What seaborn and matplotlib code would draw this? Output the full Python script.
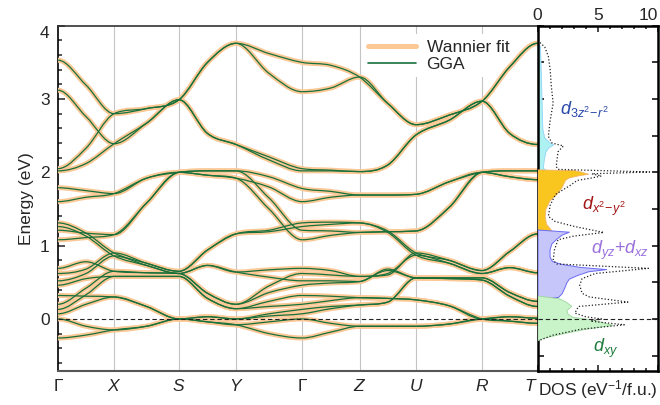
"""Band structure (Wannier fit vs GGA) with orbital-projected DOS."""

import matplotlib

matplotlib.use("Agg")
import matplotlib.pyplot as plt
import numpy as np
import seaborn as sns
from matplotlib.lines import Line2D
from matplotlib.patches import PathPatch
from matplotlib.path import Path
from matplotlib.ticker import MultipleLocator

# k-path: high-symmetry points (distance along path, arbitrary units)
HS_LABELS = [r"$\Gamma$", "$X$", "$S$", "$Y$", r"$\Gamma$", "$Z$", "$U$", "$R$", "$T$"]
HS_POS = [0, 56, 121, 178, 244, 301.5, 358, 424, 479.5]

# band energies (eV) read at each high-symmetry point and at the middle of each segment:
# Γ, ., X, ., S, ., Y, ., Γ, ., Z, ., U, ., R, ., T
U1 = [3.53, 3.19, 2.80, 2.87, 2.99, 3.50, 3.76, 3.62, 3.50, 3.46, 3.30, 2.94, 2.65, 2.78, 2.97, 3.44, 3.76]
U2 = [2.05, 2.33, 2.80, 2.87, 2.99, 3.50, 3.76, 3.35, 3.10, 3.15, 3.30, 2.94, 2.65, 2.78, 2.97, 3.44, 3.76]
U3 = [3.12, 2.76, 2.39, 2.67, 2.99, 2.53, 2.38, 2.21, 2.05, 2.03, 2.01, 2.10, 2.51, 2.71, 2.97, 2.53, 2.38]
U4 = [2.02, 2.12, 2.39, 2.67, 2.99, 2.53, 2.38, 2.17, 2.02, 2.02, 2.01, 2.10, 2.51, 2.71, 2.97, 2.53, 2.38]
G1 = [1.79, 1.75, 1.71, 1.92, 2.00, 2.02, 2.02, 1.94, 1.78, 1.74, 1.69, 1.69, 1.70, 1.87, 2.00, 2.02, 2.02]
G2 = [1.60, 1.66, 1.71, 1.92, 2.00, 1.96, 1.92, 1.80, 1.60, 1.66, 1.69, 1.69, 1.70, 1.87, 2.00, 1.94, 1.90]
G3 = [1.21, 1.17, 1.15, 1.58, 2.00, 2.02, 2.02, 1.65, 1.21, 1.20, 1.18, 1.19, 1.20, 1.52, 2.00, 2.02, 2.02]
G4 = [1.08, 1.11, 1.15, 1.58, 2.00, 1.96, 1.92, 1.50, 1.08, 1.14, 1.18, 1.19, 1.20, 1.52, 2.00, 1.94, 1.90]
L1 = [1.31, 1.17, 0.90, 0.76, 0.65, 0.94, 1.16, 1.21, 1.31, 1.32, 1.31, 1.20, 0.90, 0.80, 0.66, 0.92, 1.16]
L2 = [0.62, 0.68, 0.90, 0.76, 0.65, 0.94, 1.16, 1.19, 1.26, 1.29, 1.31, 1.18, 0.87, 0.76, 0.62, 0.70, 0.63]
L3 = [1.26, 1.13, 0.86, 0.73, 0.62, 0.73, 0.64, 0.67, 0.69, 0.66, 0.58, 0.60, 0.90, 0.80, 0.66, 0.92, 1.16]
L4 = [0.52, 0.62, 0.86, 0.73, 0.62, 0.73, 0.64, 0.57, 0.52, 0.52, 0.51, 0.68, 0.56, 0.56, 0.56, 0.36, 0.24]
L5 = [0.69, 0.78, 0.65, 0.63, 0.62, 0.35, 0.20, 0.45, 0.62, 0.60, 0.58, 0.62, 0.87, 0.76, 0.62, 0.70, 0.63]
L6 = [0.20, 0.42, 0.65, 0.63, 0.62, 0.35, 0.20, 0.36, 0.46, 0.49, 0.51, 0.66, 0.56, 0.55, 0.53, 0.31, 0.17]
L7 = [0.46, 0.55, 0.58, 0.58, 0.58, 0.28, 0.14, 0.24, 0.32, 0.31, 0.29, 0.28, 0.26, 0.18, 0.00, 0.03, 0.01]
L8 = [0.13, 0.33, 0.58, 0.58, 0.58, 0.28, 0.14, 0.17, 0.20, 0.25, 0.29, 0.28, 0.26, 0.18, 0.00, -0.03, -0.06]
L9 = [0.32, 0.31, 0.30, 0.17, 0.00, 0.03, 0.00, 0.07, 0.13, 0.17, 0.19, 0.23, 0.56, 0.56, 0.56, 0.36, 0.24]
L10 = [0.07, 0.20, 0.30, 0.17, 0.00, 0.03, 0.00, 0.04, 0.07, 0.14, 0.19, 0.23, 0.56, 0.55, 0.53, 0.31, 0.17]
L11 = [0.00, -0.10, -0.15, -0.10, 0.00, -0.04, -0.08, -0.04, 0.00, -0.06, -0.10, -0.10, -0.10, -0.07, 0.00, 0.03, 0.01]
L12 = [-0.26, -0.22, -0.15, -0.10, 0.00, -0.04, -0.08, -0.20, -0.26, -0.18, -0.10, -0.10, -0.10, -0.07, 0.00, -0.03, -0.06]
BANDS = [U1, U2, U3, U4, G1, G2, G3, G4, L1, L2, L3, L4, L5, L6, L7, L8, L9, L10, L11, L12]

# DOS (states/eV/f.u.) vs energy (eV)
TOTAL_E = [3.77, 3.71, 3.58, 3.40, 3.17, 2.94, 2.71, 2.49, 2.40, 2.36, 2.28, 2.08, 2.04, 2.005, 1.98,
           1.95, 1.92, 1.89, 1.82, 1.70, 1.55, 1.40, 1.33, 1.26, 1.18, 1.13, 1.08, 0.94, 0.80, 0.75,
           0.69, 0.62, 0.55, 0.46, 0.35, 0.30, 0.23, 0.17, 0.08, 0.03, 0.00, -0.03, -0.08, -0.14,
           -0.22, -0.29]
TOTAL_D = [0.2, 0.6, 0.9, 1.05, 1.15, 1.3, 1.05, 0.9, 1.2, 2.15, 1.7, 1.55, 1.7, 9.3, 4.5,
           5.3, 4.4, 3.3, 2.7, 1.5, 1.05, 0.9, 1.45, 3.1, 5.5, 3.0, 1.7, 1.4, 1.3, 1.6,
           9.2, 4.8, 3.7, 3.5, 3.7, 4.3, 7.5, 3.4, 3.1, 4.0, 5.3, 4.4, 7.2, 3.6,
           1.3, 0.2]
Z2_E = [3.78, 3.72, 3.5, 3.2, 2.9, 2.6, 2.48, 2.42, 2.38, 2.34, 2.28, 2.15, 2.06, 2.02, 2.0,
        1.9, 1.5, 1.1, 0.9, 0.75, 0.6, 0.45, 0.35, 0.25, 0.15, 0.05, -0.05, -0.15]
Z2_D = [0, 0.2, 0.25, 0.3, 0.35, 0.4, 0.55, 0.9, 1.3, 0.9, 0.65, 0.5, 0.45, 0.8, 0.3,
        0.15, 0.1, 0.15, 0.4, 0.6, 0.35, 0.7, 0.9, 0.8, 0.5, 0.25, 0.1, 0]
X2Y2_E = [2.04, 2.03, 2.01, 1.98, 1.96, 1.93, 1.9, 1.8, 1.71, 1.62, 1.5, 1.4, 1.3, 1.24, 1.2,
          1.16, 1.12, 1.09]
X2Y2_D = [0, 3.0, 3.6, 4.2, 3.4, 2.6, 2.3, 2.0, 1.6, 1.0, 0.65, 0.6, 0.7, 1.0, 1.2,
          0.9, 0.4, 0]
YZXZ_E = [1.22, 1.19, 1.15, 1.1, 1.03, 0.95, 0.85, 0.79, 0.75, 0.71, 0.68, 0.65, 0.6, 0.55, 0.5,
          0.42, 0.35, 0.3, 0.27]
YZXZ_D = [0, 2.6, 2.0, 1.6, 1.15, 1.0, 1.0, 1.2, 2.0, 3.5, 5.7, 4.2, 3.3, 2.6, 2.4,
          2.2, 2.0, 1.7, 0]
XY_E = [0.32, 0.28, 0.24, 0.18, 0.12, 0.07, 0.03, -0.01, -0.05, -0.08, -0.11, -0.14, -0.2, -0.26, -0.29]
XY_D = [0, 1.8, 2.3, 2.8, 2.4, 2.5, 2.9, 4.6, 5.5, 6.2, 5.0, 3.8, 2.0, 0.4, 0]

WANNIER = "#fcc896"
GGA = "#17703a"


def node_slopes(k, e):
    # cubic Hermite tangents; flat at extrema and at path ends
    n = len(e)
    m = np.zeros(n)
    for i in range(1, n - 1):
        d0 = (e[i] - e[i - 1]) / (k[i] - k[i - 1])
        d1 = (e[i + 1] - e[i]) / (k[i + 1] - k[i])
        if d0 * d1 <= 0:
            continue
        s = (e[i + 1] - e[i - 1]) / (k[i + 1] - k[i - 1])
        m[i] = np.sign(s) * min(abs(s), 3 * abs(d0), 3 * abs(d1))
    return m


def band_path(k, e):
    m = node_slopes(k, e)
    verts = [(k[0], e[0])]
    codes = [Path.MOVETO]
    for i in range(len(e) - 1):
        h = k[i + 1] - k[i]
        verts += [(k[i] + h / 3, e[i] + m[i] * h / 3),
                  (k[i + 1] - h / 3, e[i + 1] - m[i + 1] * h / 3),
                  (k[i + 1], e[i + 1])]
        codes += [Path.CURVE4] * 3
    return Path(verts, codes)


sns.set_theme(style="ticks")
plt.rcParams["font.family"] = ["Liberation Sans", "DejaVu Sans"]
plt.rcParams.update({
    "mathtext.fontset": "custom",
    "mathtext.rm": "Liberation Sans",
    "mathtext.it": "Liberation Sans:italic",
    "mathtext.bf": "Liberation Sans:bold",
    "axes.linewidth": 1.2,
})

k_nodes = []
for a, b in zip(HS_POS[:-1], HS_POS[1:]):
    k_nodes += [a, (a + b) / 2]
k_nodes.append(HS_POS[-1])

fig = plt.figure(figsize=(6.6, 4.05), dpi=100)
ax = fig.add_axes([0.0879, 0.0840, 0.7265, 0.8525])
ax2 = fig.add_axes([0.8144, 0.0840, 0.1826, 0.8525])

ylim = (-0.71, 4.0)

# --- bands ---
for p in HS_POS[1:-1]:
    ax.axvline(p, color="#c4c4c4", lw=0.8, zorder=1)
for band in BANDS:
    ax.add_patch(PathPatch(band_path(k_nodes, band), facecolor="none", edgecolor=WANNIER,
                           lw=3.6, capstyle="round", zorder=3))
for band in BANDS:
    ax.add_patch(PathPatch(band_path(k_nodes, band), facecolor="none", edgecolor=GGA,
                           lw=0.9, zorder=4))
ax.axhline(0, color="#222222", lw=0.8, ls=(0, (4, 2.5)), zorder=5)

ax.set_xlim(HS_POS[0], HS_POS[-1])
ax.set_ylim(*ylim)
ax.set_xticks(HS_POS)
ax.set_xticklabels(HS_LABELS, fontsize=12.5)
ax.yaxis.set_major_locator(MultipleLocator(1))
ax.yaxis.set_minor_locator(MultipleLocator(0.2))
ax.tick_params(axis="x", length=0, pad=5)
ax.tick_params(axis="y", which="both", direction="in", labelsize=12.5, pad=6, width=1.1)
ax.tick_params(axis="y", which="major", length=5)
ax.tick_params(axis="y", which="minor", length=3)
ax.set_ylabel("Energy (eV)", fontsize=12.5, labelpad=4)
ax.spines["right"].set_visible(False)
ax.spines["left"].set_color("black")
ax.spines["top"].set_color("#333333")
ax.spines["bottom"].set_color("#555555")
ax.spines["bottom"].set_linewidth(1.5)

handles = [Line2D([], [], color=WANNIER, lw=3.6, solid_capstyle="round"),
           Line2D([], [], color=GGA, lw=1.2)]
leg = ax.legend(handles, ["Wannier fit", "GGA"], loc="upper right", bbox_to_anchor=(0.97, 1.0),
                frameon=True, facecolor="white", edgecolor="none", framealpha=1,
                fontsize=12.5, handlelength=2.8, handletextpad=0.6, labelspacing=0.1,
                borderpad=0.3)
leg.set_zorder(2)

# --- DOS ---
ax2.fill_betweenx(Z2_E, 0, Z2_D, facecolor="#aef1f3", edgecolor="#8fd3f5", lw=0.6, zorder=2)
ax2.fill_betweenx(X2Y2_E, 0, X2Y2_D, facecolor="#f9c51f", edgecolor="#f3b46a", lw=0.6, zorder=3)
ax2.fill_betweenx(YZXZ_E, 0, YZXZ_D, facecolor="#c6c6fa", edgecolor="#6a6af5", lw=0.7, zorder=4)
ax2.fill_betweenx(XY_E, 0, XY_D, facecolor="#c9f3c9", edgecolor="#9bd69b", lw=0.6, zorder=5)
sns.lineplot(x=TOTAL_D, y=TOTAL_E, orient="y", estimator=None, sort=False, ax=ax2,
             color="#222222", lw=0.9, linestyle=(0, (1, 1.6)), zorder=6)
ax2.axhline(0, color="#222222", lw=0.8, ls=(0, (4, 2.5)), zorder=7)

ax2.text(1.9, 2.86, r"$d_{3z^2\!-\!r^2}$", color="#2a48a8", fontsize=13, va="center", zorder=8)
ax2.text(3.7, 1.53, r"$d_{x^2\!-\!y^2}$", color="#a31515", fontsize=13, va="center", zorder=8)
ax2.text(4.4, 0.94, r"$d_{yz}$+$d_{xz}$", color="#9a70dc", fontsize=13, va="center", zorder=8)
ax2.text(4.6, -0.40, r"$d_{xy}$", color="#1e7b3c", fontsize=13, va="center", zorder=8)

ax2.set_xlim(0, 10)
ax2.set_ylim(*ylim)
ax2.xaxis.set_major_locator(MultipleLocator(5))
ax2.xaxis.set_minor_locator(MultipleLocator(1))
ax2.yaxis.set_major_locator(MultipleLocator(0.5))
ax2.tick_params(axis="x", which="both", direction="in", top=True, bottom=True,
                labeltop=True, labelbottom=False, labelsize=12.5, pad=2, width=1.2)
ax2.tick_params(axis="x", which="major", length=4)
ax2.tick_params(axis="x", which="minor", length=2.5)
ax2.tick_params(axis="y", which="major", direction="in", left=True, right=True,
                labelleft=False, length=4, width=1.3)
ax2.xaxis.set_label_position("bottom")
ax2.set_xlabel("DOS (eV$^{-1}$/f.u.)", fontsize=12.5, labelpad=5)
ax2.set_ylabel("")
for side in ax2.spines.values():
    side.set_color("black")
    side.set_linewidth(1.8)

fig.canvas.draw()
for lab in ax2.get_xticklabels():
    if lab.get_text() == "10":
        lab.set_ha("right")
ax.get_xticklabels()[-1].set_ha("right")
for lab in ax.get_yticklabels():
    if lab.get_text() == "4":
        lab.set_va("top")

fig.savefig("out.png", dpi=100, facecolor="white")
